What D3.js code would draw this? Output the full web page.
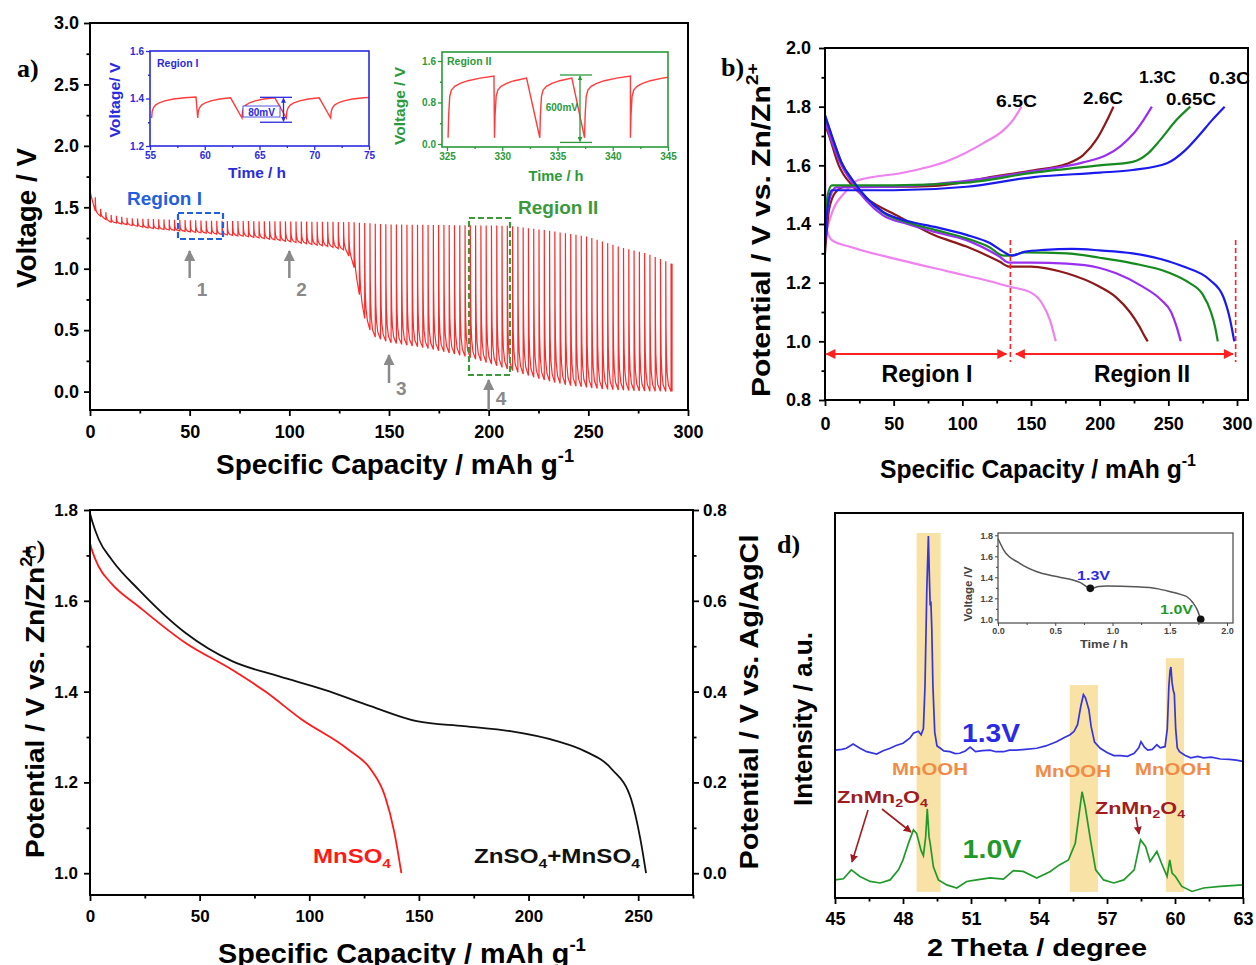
<!DOCTYPE html>
<html><head><meta charset="utf-8">
<script src="https://cdn.jsdelivr.net/npm/d3@7/dist/d3.min.js"></script>
<style>body{margin:0;background:#fff}</style>
</head><body><svg id="fig" width="1256" height="965"></svg>
<script>
// ================= DATA =================
// Panel a : GITT discharge, envelopes of the rest (upper) and end-of-pulse (lower) voltages
const aUpperCap = [0, 2, 4, 10, 20, 40, 60, 100, 130, 150, 210, 230, 250, 265, 280, 292];
const aUpperV   = [1.65, 1.62, 1.50, 1.44, 1.41, 1.40, 1.39, 1.385, 1.38, 1.36, 1.35, 1.31, 1.26, 1.18, 1.12, 1.04];
const aLowerCap = [0, 3, 10, 30, 50, 80, 100, 120, 128, 132, 135, 138, 142, 150, 170, 190, 210, 226, 240, 257, 275, 292];
const aLowerV   = [1.62, 1.45, 1.38, 1.33, 1.30, 1.26, 1.22, 1.18, 1.15, 1.05, 0.80, 0.58, 0.45, 0.40, 0.35, 0.28, 0.18, 0.10, 0.05, 0.02, 0.005, 0.0];
const aPulseStep = 2.65, aEndCap = 292;
const aToothFracCap = [0, 0.05, 0.12, 0.25, 0.5, 1];
const aToothFracV   = [1, 0.5, 0.28, 0.14, 0.05, 0];
const aXTicks = [0, 50, 100, 150, 200, 250, 300];
const aYTicks = [0.0, 0.5, 1.0, 1.5, 2.0, 2.5, 3.0];
// inset Region I
const in1Starts = [55.15, 59.36, 63.4, 67.45, 71.5];
const in1RelaxT = [0, 0.05, 0.15, 0.35, 0.7, 1.2, 2, 3, 4.05];
const in1RelaxV = [1.318, 1.345, 1.36, 1.372, 1.382, 1.39, 1.398, 1.403, 1.406];
// inset Region II
const in2Starts = [325.1, 329.3, 333.4, 337.45, 341.6];
const in2RelaxT = [0, 0.05, 0.15, 0.3, 0.6, 1.1, 1.8, 2.9, 4.15];
const in2RelaxV = [0.12, 0.55, 0.92, 1.04, 1.11, 1.17, 1.22, 1.27, 1.31];

// Panel b : charge/discharge at different rates
const bRates  = ["0.3C", "0.65C", "1.3C", "2.6C", "6.5C"];
const bColors = ["#1a1aee", "#168a1e", "#9a2ff0", "#8c1a1a", "#ee82ee"];
const b03ChC = [0, 2, 5, 50, 103, 152, 200, 224, 249, 262, 272, 282, 291];
const b03ChV = [1.33, 1.46, 1.515, 1.515, 1.527, 1.56, 1.575, 1.584, 1.607, 1.65, 1.70, 1.755, 1.80];
const b065ChC = [0, 2, 5, 50, 100, 152, 200, 224, 235, 244, 256, 266];
const b065ChV = [1.40, 1.50, 1.532, 1.532, 1.54, 1.575, 1.60, 1.612, 1.64, 1.686, 1.755, 1.80];
const b13ChC = [0, 3, 8, 50, 100, 152, 188, 205, 215, 225, 232, 238];
const b13ChV = [1.35, 1.48, 1.525, 1.527, 1.545, 1.58, 1.61, 1.635, 1.665, 1.71, 1.755, 1.80];
const b26ChC = [0, 3, 8, 15, 50, 80, 127, 152, 176, 188, 198, 205, 210];
const b26ChV = [1.30, 1.45, 1.51, 1.527, 1.527, 1.53, 1.565, 1.583, 1.605, 1.635, 1.69, 1.75, 1.80];
const b65ChC = [0, 6, 15, 22, 30, 55, 91, 115, 130, 137, 143];
const b65ChV = [1.36, 1.45, 1.51, 1.545, 1.556, 1.573, 1.618, 1.675, 1.72, 1.755, 1.80];
const b03DisC = [0, 5, 12, 20, 30, 42, 60, 80, 103, 120, 130, 136, 145, 160, 180, 200, 224, 245, 261, 280, 290, 295, 298];
const b03DisV = [1.77, 1.70, 1.61, 1.55, 1.49, 1.442, 1.41, 1.39, 1.363, 1.335, 1.305, 1.292, 1.305, 1.312, 1.315, 1.31, 1.30, 1.28, 1.255, 1.21, 1.152, 1.073, 1.0];
const b065DisC = [0, 5, 12, 20, 30, 42, 60, 80, 103, 120, 130, 136, 145, 176, 200, 224, 250, 265, 275, 281, 284, 286];
const b065DisV = [1.77, 1.70, 1.61, 1.55, 1.49, 1.44, 1.405, 1.38, 1.351, 1.32, 1.292, 1.293, 1.303, 1.30, 1.285, 1.266, 1.235, 1.20, 1.16, 1.10, 1.05, 1.0];
const b13DisC = [0, 5, 12, 20, 30, 42, 60, 79, 103, 127, 134, 150, 176, 200, 212, 230, 245, 252, 256, 259];
const b13DisV = [1.75, 1.68, 1.60, 1.54, 1.48, 1.43, 1.40, 1.374, 1.345, 1.289, 1.268, 1.268, 1.265, 1.25, 1.232, 1.19, 1.14, 1.10, 1.05, 1.0];
const b26DisC = [0, 3, 10, 20, 30, 54, 79, 103, 127, 134, 150, 176, 200, 212, 222, 229, 233, 235];
const b26DisV = [1.74, 1.70, 1.60, 1.53, 1.488, 1.425, 1.363, 1.323, 1.272, 1.255, 1.255, 1.232, 1.186, 1.15, 1.10, 1.05, 1.015, 1.0];
const b65DisC = [0, 0.5, 2, 5, 20, 55, 91, 120, 135, 150, 158, 164, 168];
const b65DisV = [1.63, 1.40, 1.37, 1.345, 1.32, 1.277, 1.237, 1.205, 1.186, 1.166, 1.13, 1.07, 1.0];
const bXTicks = [0, 50, 100, 150, 200, 250, 300];
const bYTicks = [0.8, 1.0, 1.2, 1.4, 1.6, 1.8, 2.0];
const bRegionSplit = [135, 299];

// Panel c : discharge in two electrolytes
const cZnCap = [0, 1, 4, 10, 22.3, 43.6, 64.8, 86, 107, 128, 149, 170.6, 191.7, 213, 225.6, 238, 246.8, 251, 253.6];
const cZnV   = [1.793, 1.775, 1.735, 1.69, 1.624, 1.529, 1.467, 1.434, 1.404, 1.368, 1.335, 1.324, 1.313, 1.291, 1.269, 1.229, 1.163, 1.075, 1.0];
const cMnCap = [0, 1, 4, 9.6, 22.3, 43.6, 64.8, 80, 96.4, 117.6, 128, 134.5, 138.8, 142];
const cMnV   = [1.727, 1.71, 1.675, 1.639, 1.587, 1.507, 1.448, 1.40, 1.339, 1.273, 1.229, 1.17, 1.09, 1.0];
const cXTicks = [0, 50, 100, 150, 200, 250];
const cYTicks = [1.0, 1.2, 1.4, 1.6, 1.8];
const cY2Ticks = [0.0, 0.2, 0.4, 0.6, 0.8];

// Panel d : XRD patterns
const d13Theta = [45.0, 45.3, 45.5, 45.8, 46.1, 46.4, 46.84, 47.1, 47.43, 47.7, 48.0, 48.3, 48.46, 48.68, 48.8, 48.9, 48.97, 49.05, 49.12, 49.17, 49.2, 49.23, 49.27, 49.32, 49.4, 49.5, 49.65, 49.8, 50.07, 50.3, 50.5, 50.75, 50.96, 51.2, 51.5, 51.84, 52.1, 52.43, 52.7, 53.0, 53.4, 53.9, 54.3, 54.77, 55.1, 55.37, 55.55, 55.7, 55.85, 55.96, 56.05, 56.2, 56.3, 56.45, 56.7, 57.0, 57.3, 57.6, 57.9, 58.2, 58.4, 58.5, 58.65, 58.8, 59.0, 59.2, 59.35, 59.56, 59.66, 59.73, 59.78, 59.82, 59.87, 59.92, 59.97, 60.03, 60.1, 60.2, 60.45, 60.7, 61.0, 61.26, 61.6, 62.0, 62.4, 62.7, 63.0];
const d13Int   = [38.4, 38.6, 38.9, 40.0, 38.9, 38.0, 37.4, 38.2, 38.9, 39.6, 40.2, 41.5, 42.8, 43.3, 42.4, 44, 55, 80, 94, 82, 76, 77, 70, 55, 43, 39.5, 38.9, 38.2, 38.0, 37.5, 37.6, 38.2, 39.2, 38.0, 38.3, 38.4, 38.0, 38.0, 38.4, 38.4, 38.6, 38.9, 39.5, 40.6, 41.6, 42.4, 43.3, 45, 50, 52.8, 52, 48.9, 44.5, 40.5, 38.9, 37.8, 37.0, 37.0, 36.8, 37.6, 39.0, 40.6, 39.2, 38.4, 38.6, 39.8, 39.0, 39.3, 44, 55, 59, 60, 56, 54, 53, 44, 39, 38.0, 37.0, 36.4, 36.8, 36.4, 36.6, 36.1, 36.0, 35.8, 35.5];
const d10Theta = [45.0, 45.37, 45.72, 46.1, 46.55, 46.99, 47.43, 47.8, 48.0, 48.24, 48.46, 48.6, 48.8, 48.9, 49.0, 49.07, 49.15, 49.2, 49.34, 49.56, 49.93, 50.37, 50.81, 51.25, 51.84, 52.43, 52.87, 53.3, 53.9, 54.5, 54.9, 55.3, 55.6, 55.9, 56.04, 56.27, 56.5, 56.85, 57.3, 57.74, 58.2, 58.48, 58.7, 58.9, 59.2, 59.4, 59.65, 59.77, 59.87, 60.02, 60.3, 60.75, 61.26, 62.0, 63.0];
const d10Int   = [4.7, 5.0, 7.3, 5.6, 4.3, 3.9, 4.7, 7.3, 9.9, 14.2, 17.7, 16.8, 12.3, 11.0, 15.8, 23.2, 15.8, 14.2, 8.1, 4.7, 3.4, 2.6, 4.3, 4.7, 5.2, 4.9, 7.1, 6.9, 5.2, 6.9, 8.6, 9.9, 14.2, 27.6, 23.7, 15.1, 7.3, 4.7, 3.9, 4.7, 7.3, 15.1, 13.4, 9.5, 12.1, 9.1, 5.6, 9.9, 6.5, 5.6, 3.0, 1.7, 2.6, 3.0, 3.4];
const dBandFrom = [48.6, 55.36, 59.6];
const dBandTo   = [49.66, 56.6, 60.4];
const dBandTop  = [94.8, 55.3, 62.3];
const dXTicks = [45, 48, 51, 54, 57, 60, 63];
// inset of panel d
const dInT = [0, 0.05, 0.19, 0.34, 0.486, 0.63, 0.72, 0.806, 0.88, 0.95, 1.2, 1.4, 1.505, 1.6, 1.65, 1.7, 1.74, 1.77];
const dInV = [1.77, 1.66, 1.533, 1.453, 1.412, 1.381, 1.35, 1.295, 1.312, 1.317, 1.31, 1.29, 1.263, 1.235, 1.215, 1.16, 1.09, 1.0];
const dInDotT = [0.806, 1.77];
const dInDotV = [1.295, 1.0];

// ================= DRAWING =================
const FONT = '"Liberation Sans", Arial, Helvetica, sans-serif';
const SERIF = '"Liberation Serif", "Times New Roman", serif';
const svg = d3.select("#fig");
svg.append("rect").attr("width", 1256).attr("height", 965).attr("fill", "#fff");
const defs = svg.append("defs");
function marker(id, color, w, h) {
  defs.append("marker").attr("id", id).attr("viewBox", "0 0 10 10")
    .attr("refX", 9).attr("refY", 5).attr("markerUnits", "userSpaceOnUse")
    .attr("markerWidth", w).attr("markerHeight", h).attr("orient", "auto-start-reverse")
    .append("path").attr("d", "M0,0L10,5L0,10z").attr("fill", color);
}
marker("mGray", "#8a8a8a", 11, 11);
marker("mRed", "#ff2020", 11, 10);
marker("mDark", "#a01c22", 8, 8);
marker("mBlue", "#2a2ae0", 5, 5);
marker("mGreen", "#2a9a3a", 5, 5);

function label(g, x, y, parts, o) {
  o = o || {};
  const size = o.size || 16;
  const t = g.append("text").attr("x", x).attr("y", y)
    .attr("text-anchor", o.anchor || "start").attr("fill", o.color || "#000")
    .style("font-size", size + "px").style("font-family", o.family || FONT)
    .style("font-weight", o.weight || "bold");
  if (o.rotate) t.attr("transform", `rotate(${o.rotate},${x},${y})`);
  if (typeof parts === "string") parts = [[parts, ""]];
  let off = 0;
  parts.forEach(([s, k]) => {
    const sp = t.append("tspan").text(s);
    let target = 0;
    if (k === "sup") { target = -size * 0.45; sp.style("font-size", (size * 0.65) + "px"); }
    if (k === "sub") { target = size * 0.22; sp.style("font-size", (size * 0.65) + "px"); }
    if (target !== off) { sp.attr("dy", target - off); off = target; }
  });
  if (o.len) t.attr("textLength", o.len).attr("lengthAdjust", "spacingAndGlyphs");
  return t;
}

function axis(g, orient, scale, pos, major, minor, o) {
  o = o || {};
  const mk = { bottom: d3.axisBottom, left: d3.axisLeft, right: d3.axisRight }[orient];
  const tr = orient === "bottom" ? `translate(0,${pos})` : `translate(${pos},0)`;
  const col = o.color || "#000", sw = o.sw || 1.8;
  if (minor) {
    const m = g.append("g").attr("transform", tr)
      .call(mk(scale).tickValues(minor).tickSize(o.minorSize || 3.5).tickFormat(""));
    m.select(".domain").remove();
    m.selectAll("line").attr("stroke", col).attr("stroke-width", sw);
  }
  const a = g.append("g").attr("transform", tr)
    .call(mk(scale).tickValues(major).tickSize(o.majorSize || 6).tickPadding(o.pad || 4)
      .tickFormat(o.fmt || (d => d)));
  a.select(".domain").remove();
  a.selectAll("line").attr("stroke", col).attr("stroke-width", sw);
  a.selectAll("text").attr("fill", col).style("font-size", (o.fs || 16) + "px")
    .style("font-weight", "bold").style("font-family", FONT);
  return a;
}
function frame(g, x, y, color, sw) {
  g.append("rect").attr("x", x.range()[0]).attr("y", y.range()[1])
    .attr("width", x.range()[1] - x.range()[0]).attr("height", y.range()[0] - y.range()[1])
    .attr("fill", "none").attr("stroke", color || "#000").attr("stroke-width", sw || 2);
}
function mids(ticks) { const r = []; for (let i = 0; i < ticks.length - 1; i++) r.push((ticks[i] + ticks[i + 1]) / 2); return r; }
const f1 = d3.format(".1f");

// ---------- Panel a ----------
(function () {
  const g = svg.append("g");
  const x = d3.scaleLinear().domain([0, 300]).range([90, 688]);
  const y = d3.scaleLinear().domain([-0.15, 3.0]).range([410, 23]);
  const U = d3.scaleLinear().domain(aUpperCap).range(aUpperV).clamp(true);
  const L = d3.scaleLinear().domain(aLowerCap).range(aLowerV).clamp(true);
  const pts = [];
  for (let c0 = 0; c0 < aEndCap - 1e-6; c0 += aPulseStep) {
    const c1 = Math.min(c0 + aPulseStep, aEndCap);
    const u = U(c0), l0 = L(c0);
    pts.push([c0, u]);
    for (let i = 1; i < aToothFracCap.length; i++) {
      const c = c0 + aToothFracCap[i] * (c1 - c0);
      pts.push([c, L(c) + aToothFracV[i] * (u - l0)]);
    }
  }
  pts.push([aEndCap, U(aEndCap)]);
  g.append("path").attr("d", d3.line().x(d => x(d[0])).y(d => y(d[1]))(pts))
    .attr("fill", "none").attr("stroke", "#ff2a2a").attr("stroke-width", 1.2);

  frame(g, x, y);
  axis(g, "bottom", x, 410, aXTicks, mids(aXTicks), { fs: 18, pad: 9 });
  axis(g, "left", y, 90, aYTicks, mids(aYTicks), { fs: 18, pad: 5, fmt: f1 });
  label(g, 395, 474, [["Specific Capacity / mAh g", ""], ["-1", "sup"]], { size: 27, anchor: "middle", len: 358 });
  label(g, 36, 218, "Voltage / V", { size: 27, anchor: "middle", rotate: -90, len: 140 });
  label(g, 17, 77, "a)", { size: 26, family: SERIF });

  // region boxes & labels
  g.append("rect").attr("x", 178).attr("y", 213).attr("width", 45).attr("height", 26)
    .attr("fill", "none").attr("stroke", "#1f5fe0").attr("stroke-width", 2.2).attr("stroke-dasharray", "6,3");
  label(g, 127, 205, "Region I", { size: 19, color: "#1f5fe0" });
  g.append("rect").attr("x", 469).attr("y", 218).attr("width", 41).attr("height", 157)
    .attr("fill", "none").attr("stroke", "#3a9a3a").attr("stroke-width", 2.2).attr("stroke-dasharray", "6,3");
  label(g, 518, 214, "Region II", { size: 19, color: "#3a9a3a" });

  // gray arrows
  const arrows = [[50, 278, 251, "1", 296], [100, 278, 251, "2", 296], [150, 383, 355, "3", 395], [200, 410, 380, "4", 405]];
  arrows.forEach(([c, y0, y1, t, ly]) => {
    g.append("line").attr("x1", x(c)).attr("x2", x(c)).attr("y1", y0).attr("y2", y1)
      .attr("stroke", "#8a8a8a").attr("stroke-width", 2.5).attr("marker-end", "url(#mGray)");
    label(g, x(c) + 7, ly, t, { size: 19, color: "#8a8a8a" });
  });

  // inset Region I
  const bl = "#2a2ae0";
  const ix = d3.scaleLinear().domain([55, 75]).range([150, 369]);
  const iy = d3.scaleLinear().domain([1.2, 1.6]).range([146, 51]);
  const rel1 = d3.scaleLinear().domain(in1RelaxT).range(in1RelaxV);
  const p1 = [];
  in1Starts.forEach((s, i) => {
    const next = i < in1Starts.length - 1 ? in1Starts[i + 1] : 75;
    in1RelaxT.forEach(dt => { if (s + dt < next) p1.push([s + dt, rel1(dt)]); });
    if (i === in1Starts.length - 1) p1.push([75, rel1(75 - s)]);
  });
  g.append("rect").attr("x", 150).attr("y", 51).attr("width", 219).attr("height", 95).attr("fill", "#fff");
  g.append("path").attr("d", d3.line().x(d => ix(d[0])).y(d => iy(d[1]))(p1))
    .attr("fill", "none").attr("stroke", "#ff3b3b").attr("stroke-width", 1.4);
  frame(g, ix, iy, bl, 1.6);
  axis(g, "bottom", ix, 146, [55, 60, 65, 70, 75], [57.5, 62.5, 67.5, 72.5], { fs: 10, pad: 2, majorSize: 4, minorSize: 2, color: bl, sw: 1.3 });
  axis(g, "left", iy, 150, [1.2, 1.4, 1.6], [1.3, 1.5], { fs: 10, pad: 2, majorSize: 4, minorSize: 2, color: bl, sw: 1.3, fmt: f1 });
  label(g, 157, 67, "Region I", { size: 10.5, color: bl });
  label(g, 257, 178, "Time / h", { size: 14, color: bl, anchor: "middle", len: 58 });
  label(g, 120, 100, "Voltage/ V", { size: 14, color: bl, anchor: "middle", rotate: -90, len: 75 });
  // 80 mV bracket
  [iy(1.405), iy(1.30)].forEach(yy => g.append("line").attr("x1", 260).attr("x2", 292).attr("y1", yy).attr("y2", yy).attr("stroke", bl).attr("stroke-width", 1.3));
  g.append("line").attr("x1", 283.5).attr("x2", 283.5).attr("y1", iy(1.405) + 1).attr("y2", iy(1.30) - 1)
    .attr("stroke", bl).attr("stroke-width", 1.3).attr("marker-start", "url(#mBlue)").attr("marker-end", "url(#mBlue)");
  g.append("rect").attr("x", 243).attr("y", 106).attr("width", 37).attr("height", 11).attr("fill", "#fff").attr("stroke", bl).attr("stroke-width", 0.8);
  label(g, 261.5, 115.5, "80mV", { size: 10, color: bl, anchor: "middle" });

  // inset Region II
  const gr = "#2a9a3a";
  const jx = d3.scaleLinear().domain([324.55, 345]).range([442, 668]);
  const jy = d3.scaleLinear().domain([-0.058, 1.773]).range([147, 52]);
  const rel2 = d3.scaleLinear().domain(in2RelaxT).range(in2RelaxV);
  const p2 = [];
  in2Starts.forEach((s, i) => {
    const next = i < in2Starts.length - 1 ? in2Starts[i + 1] : 345;
    in2RelaxT.forEach(dt => { if (s + dt < next) p2.push([s + dt, rel2(dt)]); });
    if (i === in2Starts.length - 1) p2.push([345, rel2(345 - s)]);
  });
  g.append("rect").attr("x", 442).attr("y", 52).attr("width", 226).attr("height", 95).attr("fill", "#fff");
  g.append("path").attr("d", d3.line().x(d => jx(d[0])).y(d => jy(d[1]))(p2))
    .attr("fill", "none").attr("stroke", "#ff3b3b").attr("stroke-width", 1.4);
  frame(g, jx, jy, gr, 1.6);
  axis(g, "bottom", jx, 147, [325, 330, 335, 340, 345], [327.5, 332.5, 337.5, 342.5], { fs: 10, pad: 2, majorSize: 4, minorSize: 2, color: gr, sw: 1.3 });
  axis(g, "left", jy, 442, [0.0, 0.8, 1.6], [0.4, 1.2], { fs: 10, pad: 2, majorSize: 4, minorSize: 2, color: gr, sw: 1.3, fmt: f1 });
  label(g, 447, 65, "Region II", { size: 10.5, color: gr });
  label(g, 556, 181, "Time / h", { size: 14, color: gr, anchor: "middle", len: 55 });
  label(g, 405, 106, "Voltage / V", { size: 14, color: gr, anchor: "middle", rotate: -90, len: 78 });
  [jy(1.33), jy(0.03)].forEach(yy => g.append("line").attr("x1", 560).attr("x2", 592).attr("y1", yy).attr("y2", yy).attr("stroke", gr).attr("stroke-width", 1.3));
  g.append("line").attr("x1", 580).attr("x2", 580).attr("y1", jy(1.33) + 1).attr("y2", jy(0.03) - 1)
    .attr("stroke", gr).attr("stroke-width", 1.3).attr("marker-start", "url(#mGreen)").attr("marker-end", "url(#mGreen)");
  label(g, 578, 111, "600mV", { size: 10, color: gr, anchor: "end" });
})();

// ---------- Panel b ----------
(function () {
  const g = svg.append("g");
  const x = d3.scaleLinear().domain([0, 308]).range([825, 1248]);
  const y = d3.scaleLinear().domain([0.8, 2.0]).range([400, 48]);
  const line = d3.line().curve(d3.curveMonotoneX).x(d => x(d[0])).y(d => y(d[1]));
  const series = [
    [b03ChC, b03ChV, b03DisC, b03DisV],
    [b065ChC, b065ChV, b065DisC, b065DisV],
    [b13ChC, b13ChV, b13DisC, b13DisV],
    [b26ChC, b26ChV, b26DisC, b26DisV],
    [b65ChC, b65ChV, b65DisC, b65DisV]
  ];
  for (let i = series.length - 1; i >= 0; i--) {
    const [cc, cv, dc, dv] = series[i];
    [[cc, cv], [dc, dv]].forEach(([cs, vs]) => {
      g.append("path").attr("d", line(cs.map((c, k) => [c, vs[k]])))
        .attr("fill", "none").attr("stroke", bColors[i]).attr("stroke-width", 2.2);
    });
  }
  frame(g, x, y);
  axis(g, "bottom", x, 400, bXTicks, mids(bXTicks), { fs: 18, pad: 11 });
  axis(g, "left", y, 825, bYTicks, mids(bYTicks), { fs: 18, pad: 8, fmt: f1 });
  label(g, 1038, 478, [["Specific Capacity / mAh g", ""], ["-1", "sup"]], { size: 26, anchor: "middle", len: 316 });
  label(g, 770, 230, [["Potential  / V vs. Zn/Zn", ""], ["2+", "sup"]], { size: 26, anchor: "middle", rotate: -90, len: 334 });
  label(g, 721, 76, "b)", { size: 26, family: SERIF });
  // rate labels
  const rl = [[996, 107, 41], [1083, 104, 40], [1139, 83, 37], [1166, 105, 50], [1209, 84, 41]];
  const order = ["6.5C", "2.6C", "1.3C", "0.65C", "0.3C"];
  order.forEach((t, i) => label(g, rl[i][0], rl[i][1], t, { size: 17, len: rl[i][2] }));
  // regions
  bRegionSplit.forEach(c => g.append("line").attr("x1", x(c)).attr("x2", x(c)).attr("y1", 240).attr("y2", 362)
    .attr("stroke", "#ff2020").attr("stroke-width", 1.6).attr("stroke-dasharray", "5,3"));
  g.append("line").attr("x1", x(1)).attr("x2", x(132)).attr("y1", 354).attr("y2", 354)
    .attr("stroke", "#ff2020").attr("stroke-width", 2).attr("marker-start", "url(#mRed)").attr("marker-end", "url(#mRed)");
  g.append("line").attr("x1", x(139)).attr("x2", x(297)).attr("y1", 354).attr("y2", 354)
    .attr("stroke", "#ff2020").attr("stroke-width", 2).attr("marker-start", "url(#mRed)").attr("marker-end", "url(#mRed)");
  label(g, 927, 382, "Region I", { size: 23, anchor: "middle", len: 91 });
  label(g, 1142, 382, "Region II", { size: 23, anchor: "middle", len: 96 });
})();

// ---------- Panel c ----------
(function () {
  const g = svg.append("g");
  const x = d3.scaleLinear().domain([0, 275]).range([90, 693]);
  const y = d3.scaleLinear().domain([0.952, 1.8]).range([895, 510]);
  const y2 = d3.scaleLinear().domain([-0.048, 0.8]).range([895, 510]);
  const line = d3.line().curve(d3.curveMonotoneX).x(d => x(d[0])).y(d => y(d[1]));
  g.append("path").attr("d", line(cZnCap.map((c, i) => [c, cZnV[i]])))
    .attr("fill", "none").attr("stroke", "#111").attr("stroke-width", 1.8);
  g.append("path").attr("d", line(cMnCap.map((c, i) => [c, cMnV[i]])))
    .attr("fill", "none").attr("stroke", "#ff1a1a").attr("stroke-width", 1.8);
  frame(g, x, y);
  axis(g, "bottom", x, 895, cXTicks, [25, 75, 125, 175, 225, 275], { fs: 17, pad: 9 });
  axis(g, "left", y, 90, cYTicks, mids(cYTicks), { fs: 17, pad: 6, fmt: f1 });
  axis(g, "right", y2, 693, cY2Ticks, mids(cY2Ticks), { fs: 17, pad: 4, fmt: f1 });
  label(g, 402, 963, [["Specific Capacity / mAh g", ""], ["-1", "sup"]], { size: 27, anchor: "middle", len: 368 });
  label(g, 44, 702, [["Potential  / V vs. Zn/Zn", ""], ["2+", "sup"]], { size: 26, anchor: "middle", rotate: -90, len: 312 });
  label(g, 758, 702, "Potential  / V vs. Ag/AgCl", { size: 26, anchor: "middle", rotate: -90, len: 335 });
  label(g, 25, 558, "c)", { size: 26, family: SERIF });
  label(g, 313, 863, [["MnSO", ""], ["4", "sub"]], { size: 21, color: "#ff1a1a", len: 78 });
  label(g, 474, 863, [["ZnSO", ""], ["4", "sub"], ["+MnSO", ""], ["4", "sub"]], { size: 21, color: "#111", len: 166 });
})();

// ---------- Panel d ----------
(function () {
  const g = svg.append("g");
  const x = d3.scaleLinear().domain([45, 63]).range([835, 1243]);
  const y = d3.scaleLinear().domain([0, 100]).range([898, 513]);
  dBandFrom.forEach((b, i) => {
    g.append("rect").attr("x", x(b)).attr("width", x(dBandTo[i]) - x(b))
      .attr("y", y(dBandTop[i])).attr("height", y(1.6) - y(dBandTop[i])).attr("fill", "#f9e2a6");
  });
  const line = d3.line().x(d => x(d[0])).y(d => y(d[1]));
  g.append("path").attr("d", line(d10Theta.map((t, i) => [t, d10Int[i]])))
    .attr("fill", "none").attr("stroke", "#1f9a2a").attr("stroke-width", 1.7);
  g.append("path").attr("d", line(d13Theta.map((t, i) => [t, d13Int[i]])))
    .attr("fill", "none").attr("stroke", "#3434e0").attr("stroke-width", 1.7);
  frame(g, x, y);
  axis(g, "bottom", x, 898, dXTicks, mids(dXTicks), { fs: 18, pad: 8 });
  label(g, 1037, 956, "2 Theta / degree", { size: 24, anchor: "middle", len: 220 });
  label(g, 812, 719, "Intensity / a.u.", { size: 25, anchor: "middle", rotate: -90, len: 174 });
  label(g, 777, 553, "d)", { size: 26, family: SERIF });

  label(g, 991, 742, "1.3V", { size: 26, color: "#2a2ae6", anchor: "middle", len: 58 });
  label(g, 992, 858, "1.0V", { size: 26, color: "#1f9a2a", anchor: "middle", len: 59 });
  const mn = [[930, 775], [1073, 777], [1173, 775]];
  mn.forEach(([cx, by]) => label(g, cx, by, "MnOOH", { size: 17, color: "#f08c48", anchor: "middle", len: 76 }));
  label(g, 837, 803, [["ZnMn", ""], ["2", "sub"], ["O", ""], ["4", "sub"]], { size: 17, color: "#a01c22", len: 91 });
  label(g, 1095, 814, [["ZnMn", ""], ["2", "sub"], ["O", ""], ["4", "sub"]], { size: 17, color: "#a01c22", len: 90 });
  [[868, 810, 852, 862], [882, 809, 911, 832], [1136, 817, 1139, 834]].forEach(([x1, y1, x2, y2]) =>
    g.append("line").attr("x1", x1).attr("y1", y1).attr("x2", x2).attr("y2", y2)
      .attr("stroke", "#a01c22").attr("stroke-width", 1.6).attr("marker-end", "url(#mDark)"));

  // inset
  const ix = d3.scaleLinear().domain([0, 2.052]).range([998, 1233]);
  const iy = d3.scaleLinear().domain([0.965, 1.822]).range([623, 533]);
  g.append("rect").attr("x", 998).attr("y", 533).attr("width", 235).attr("height", 90).attr("fill", "#fff");
  g.append("path").attr("d", d3.line().curve(d3.curveMonotoneX).x(d => ix(d[0])).y(d => iy(d[1]))(dInT.map((t, i) => [t, dInV[i]])))
    .attr("fill", "none").attr("stroke", "#555").attr("stroke-width", 1.5);
  dInDotT.forEach((t, i) => g.append("circle").attr("cx", ix(t)).attr("cy", iy(dInDotV[i])).attr("r", 3.8).attr("fill", "#111"));
  frame(g, ix, iy, "#555", 1.3);
  axis(g, "bottom", ix, 623, [0, 0.5, 1.0, 1.5, 2.0], [0.25, 0.75, 1.25, 1.75], { fs: 9, pad: 2, majorSize: 3, minorSize: 2, color: "#444", sw: 1, fmt: f1 });
  axis(g, "left", iy, 998, [1.0, 1.2, 1.4, 1.6, 1.8], [1.1, 1.3, 1.5, 1.7], { fs: 9, pad: 2, majorSize: 3, minorSize: 2, color: "#444", sw: 1, fmt: f1 });
  label(g, 1104, 648, "Time / h", { size: 11, color: "#444", anchor: "middle", len: 48 });
  label(g, 972, 594, "Voltage  /V", { size: 11, color: "#444", anchor: "middle", rotate: -90, len: 55 });
  label(g, 1077, 580, "1.3V", { size: 12.5, color: "#2a2ae6", len: 33 });
  label(g, 1160, 614, "1.0V", { size: 12.5, color: "#1f9a2a", len: 33 });
})();
</script></body></html>
